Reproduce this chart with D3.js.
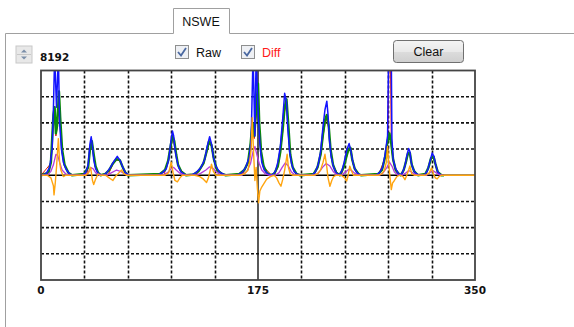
<!DOCTYPE html>
<html>
<head>
<meta charset="utf-8">
<script src="https://cdn.jsdelivr.net/npm/d3@7"></script>
<style>
  body { margin: 0; background: #fff; }
  svg { display: block; }
</style>
</head>
<body>
<div id="chart"></div>
<script>
// samples x 0..350, y in grid divisions (-4..4)
const xLabels = [0, 175, 350];
const gridX = [35, 70, 105, 140, 210, 245, 280, 315];
const gridY = [-3, -2, -1, 1, 2, 3];
const spinValue = '8192';

const greenRaw = [[0,0],[6,0.1],[8,0.5],[10,2.3],[11,2.6],[12,1.6],[13,1.9],[14.5,3.2],[15.5,2.2],[17,1.0],[19,0.4],[22,0.1],[25,0],
  [35,0.05],[38,0.3],[39.5,1.0],[41,1.3],[42.5,0.8],[44,0.35],[46,0.1],[48,0],
  [52,0.05],[55,0.2],[58,0.45],[61,0.62],[63.5,0.58],[66,0.3],[68,0.1],[70,0],
  [96,0.05],[100,0.2],[102.5,0.55],[104.5,1.1],[106,1.5],[107.5,1.3],[109,0.8],[110.5,0.4],[113,0.15],[117,0],
  [123,0.03],[127,0.15],[131,0.45],[133.5,0.9],[135.5,1.3],[137.5,1.15],[139.5,0.6],[142,0.2],[146,0.05],[149,0],
  [160,0.05],[164,0.2],[167,0.5],[169,1.2],[170.5,2.0],[172,1.5],[173.5,2.5],[175,3.5],[176,2.0],[177.5,0.9],[179.5,0.35],[182,0.1],[185,0],
  [188,0.05],[191,0.35],[193,0.9],[195,1.8],[196.5,2.6],[198,2.9],[199.5,1.9],[201,0.8],[203,0.3],[206,0.05],[209,0],
  [220,0.05],[223,0.3],[225.5,0.8],[227.5,1.6],[229,2.1],[230.5,2.3],[232,1.9],[233.5,1.0],[235.5,0.4],[238,0.1],[241,0],
  [241.5,0.05],[244,0.3],[246.5,0.75],[248,1.0],[249.5,1.05],[251,0.6],[253,0.25],[256,0.05],[258,0],
  [272,0.05],[275,0.2],[277.5,0.7],[279.5,1.3],[281,1.6],[282.5,1.2],[284,0.6],[286,0.2],[289,0.03],[290,0],
  [290.5,0.03],[292.5,0.2],[294.5,0.55],[296,0.85],[297.5,0.85],[299,0.4],[301,0.15],[304,0],
  [310,0.05],[312.5,0.3],[314.5,0.65],[316.5,0.72],[318,0.45],[320,0.12],[323,0],[325,0]];

const redRaw = [[0,0],[8,0.45],[10,2.1],[11,2.4],[12,1.5],[13,1.8],[14.5,2.9],[15.5,2.0],[17,0.9],[19,0.35],[24,0],
  [37,0],[39.5,0.95],[40.8,1.2],[42.5,0.75],[44,0.3],[47,0],
  [54,0],[58,0.42],[61,0.58],[63.5,0.55],[66,0.28],[70,0],
  [99,0],[102.5,0.5],[104.5,1.0],[106,1.4],[107.5,1.2],[109,0.75],[111,0.3],[117,0],
  [125,0],[131,0.42],[133.5,0.85],[135.5,1.22],[137.5,1.1],[139.5,0.55],[142,0.18],[149,0],
  [162,0],[167,0.45],[169,1.1],[170.5,1.8],[172,1.4],[173.5,2.3],[175,3.2],[176,1.8],[177.5,0.8],[180,0.3],[186,0],
  [188,0],[191,0.3],[193,0.85],[195,1.7],[196.5,2.45],[198,2.7],[199.5,1.8],[201,0.75],[203,0.28],[207,0],
  [220,0],[223,0.28],[225.5,0.75],[227.5,1.5],[229,1.95],[230.5,2.15],[232,1.8],[233.5,0.95],[235.5,0.38],[240,0],
  [242,0],[244,0.28],[246.5,0.7],[248,0.95],[249.5,1.0],[251,0.55],[253,0.22],[257,0],
  [272,0],[277.5,0.65],[279.5,1.2],[280.8,4.6],[281.8,4.6],[282.5,1.1],[284,0.55],[286,0.18],[289,0],
  [291,0],[292.5,0.18],[294.5,0.5],[296,0.8],[297.5,0.8],[299,0.38],[301,0.14],[304,0],
  [310,0],[312.5,0.28],[314.5,0.6],[316.5,0.68],[318,0.42],[320,0.1],[323,0],[325,0]];

const blueRaw = [[0,0],[4,0.05],[7,0.3],[9,1.0],[10,2.5],[11,4.6],[12.5,2.6],[14,4.6],[15,2.0],[16.5,1.0],[18,0.5],[20,0.25],[23,0.05],[26,0],
  [33,0],[36,0.1],[38,0.4],[39.5,1.2],[40.5,1.47],[41.5,1.1],[42.5,0.6],[44,0.25],[46,0.08],[49,0],
  [50,0],[53,0.1],[56,0.3],[59,0.55],[61.5,0.72],[64,0.55],[66,0.3],[68,0.1],[71,0],
  [94,0],[98,0.1],[101,0.25],[103,0.6],[104.5,1.2],[106,1.69],[107,1.5],[108,1.0],[109.5,0.6],[111,0.3],[113,0.12],[116,0.03],[119,0],
  [121,0],[125,0.1],[129,0.3],[132,0.6],[134,1.1],[136,1.47],[137.5,1.2],[139,0.7],[141,0.35],[144,0.12],[148,0.02],[151,0],
  [158,0],[162,0.1],[165,0.3],[168,0.7],[169.5,1.4],[171,4.6],[172.5,1.5],[173.5,4.6],[175,2.5],[176.5,1.2],[178,0.5],[180,0.2],[183,0.05],[186,0],
  [186.5,0],[189,0.15],[191,0.5],[193,1.1],[195,2.2],[196.5,3.13],[198,2.8],[199,1.8],[200.5,0.9],[202,0.45],[204,0.15],[207,0.03],[210,0],
  [218,0],[221,0.1],[223.5,0.4],[225.5,0.9],[227.5,1.9],[229,2.5],[230.5,2.83],[231.5,2.3],[232.5,1.4],[234,0.7],[236,0.3],[238,0.1],[240,0],
  [242.5,0.15],[244.5,0.5],[246.5,0.95],[248.5,1.21],[250,0.9],[251.5,0.5],[253,0.25],[255,0.08],[258,0],
  [270,0],[273,0.1],[275.5,0.3],[277.5,0.8],[279.5,1.5],[280.3,4.6],[282.5,4.6],[283,1.4],[284,0.6],[286,0.25],[288,0.08],[289.5,0],
  [291.5,0.1],[293.5,0.35],[295,0.75],[296.5,1.02],[297.5,0.9],[298.5,0.5],[300,0.25],[302,0.08],[305,0],
  [309,0],[311.5,0.15],[313.5,0.5],[315.5,0.85],[317,0.7],[318.5,0.35],[320,0.12],[322.5,0],[325,0]];

const purpleDiff = [[0,0],[5,0],[8,0.15],[10,0.4],[12,0.8],[13.5,0.75],[15,0.5],[17,0.2],[20,0.05],[23,0],
  [35,0],[38,0.1],[40,0.3],[42,0.25],[44,0.1],[47,0],
  [53,0],[57,0.1],[61,0.2],[64,0.15],[68,0.03],[70,0],
  [98,0],[102,0.1],[105,0.25],[107,0.3],[109,0.2],[112,0.08],[116,0],
  [125,0],[129,0.08],[133,0.2],[136,0.32],[139,0.25],[142,0.1],[146,0],
  [162,0],[166,0.15],[169,0.45],[171,0.9],[172.5,1.1],[174,0.8],[176,0.45],[178,0.2],[181,0.05],[184,0],
  [189,0],[192,0.1],[194.5,0.3],[197,0.47],[199.5,0.35],[202,0.12],[205,0],
  [221,0],[224,0.1],[227,0.3],[230,0.45],[233,0.35],[236,0.12],[239,0],
  [242,0],[245,0.1],[248,0.22],[250,0.2],[253,0.08],[256,0],
  [273,0],[276,0.1],[279,0.3],[281,0.5],[283,0.35],[285,0.12],[288,0],
  [291,0],[294,0.08],[296.5,0.18],[299,0.12],[302,0.03],[304,0],
  [311,0],[313.5,0.1],[316,0.18],[318.5,0.1],[321,0.02],[323,0],[325,0]];

const orangeDiff = [[0,0],[5,0],[8,-0.1],[10,-0.4],[10.5,-0.75],[11.5,-0.3],[12.5,0.3],[14,1.4],[15,0.5],[16,0.2],[18,-0.05],[20,0],
  [36,0],[38.5,0.1],[40,0.3],[41.5,-0.2],[42.5,-0.35],[44,-0.15],[46,0.05],[48,0],
  [52,0],[55,-0.1],[58,-0.2],[60,-0.05],[63,0.1],[65,0.2],[67,0.05],[69,0],
  [100,0],[103,0.1],[105,0.5],[106.5,0.1],[108,-0.2],[110,-0.25],[112,-0.1],[114,0],
  [124,0],[128,-0.05],[131,-0.15],[133.5,-0.28],[135,-0.1],[136.5,0.2],[137.5,0.42],[139,0.15],[141,0],
  [160,0],[164,0.05],[167,0.2],[168.5,0.6],[169.5,1.0],[170.3,2.2],[171.5,0.8],[172.5,-0.2],[173.5,0.3],[174.5,-0.5],[175.5,-1.05],[176.5,-0.6],[178,-0.45],[180,-0.3],[182,-0.15],[185,-0.05],[188,0],
  [190,-0.1],[192,-0.3],[193.5,-0.42],[195,-0.15],[196.5,0.2],[198.5,0.8],[199.5,0.3],[201,0.05],[203,0],
  [220,0],[223,0.05],[225.5,0.2],[227.5,0.5],[229,0.8],[230.5,0.3],[231.5,-0.1],[233,-0.42],[234.5,-0.2],[236,-0.05],[238,0],
  [242,0],[244.5,-0.08],[246.5,-0.22],[247.5,-0.05],[249,0.35],[250.5,0.15],[252,0],
  [272,0],[275,0.05],[277,0.2],[278.5,0.5],[279.5,1.1],[280.5,0.4],[281.5,-0.1],[282.5,-0.55],[283.5,-0.3],[285,-0.2],[287,-0.05],[289,0],
  [290,0],[292,-0.05],[293.5,-0.17],[295,0],[296.5,0.2],[297.5,0.35],[299,0.05],[301,0],
  [310,0],[313,0.08],[315,0.28],[316.5,0.05],[318,-0.1],[319.5,-0.14],[321,-0.05],[323,0],[350,0]];

const width = 574;
const height = 327;
const plot = { left: 41, right: 475, top: 70.5, bottom: 280 };

const svg = d3.select('#chart')
  .append('svg')
  .attr('width', width)
  .attr('height', height)
  .attr('viewBox', `0 0 ${width} ${height}`);

const defs = svg.append('defs');

// --- window chrome: tab, panel, controls ---
const chrome = svg.append('g');

chrome.append('path')
  .attr('d', 'M5.5,327 V33.5 H173.5 V8.5 H229.5 V33.5 H574')
  .attr('fill', 'none')
  .attr('stroke', '#a0a0a0');
chrome.append('text')
  .attr('x', 201).attr('y', 26)
  .attr('text-anchor', 'middle')
  .attr('font-family', 'Liberation Sans, Arial, sans-serif')
  .attr('font-size', 12.5)
  .attr('fill', '#111')
  .text('NSWE');

// spinner
const spin = chrome.append('g').attr('transform', 'translate(16,46)');
spin.append('rect').attr('width', 16).attr('height', 17).attr('fill', '#e8e8e8').attr('stroke', '#c8c8c8');
spin.append('line').attr('x1', 1).attr('x2', 15).attr('y1', 8.5).attr('y2', 8.5).attr('stroke', '#c8c8c8');
spin.append('path').attr('d', 'M5,6.5 L8,3.5 L11,6.5 Z').attr('fill', '#7a8ea8');
spin.append('path').attr('d', 'M5,10.5 L8,13.5 L11,10.5 Z').attr('fill', '#7a8ea8');
chrome.append('text')
  .attr('x', 40).attr('y', 61)
  .attr('font-family', 'DejaVu Sans, Verdana, sans-serif')
  .attr('font-weight', 'bold')
  .attr('font-size', 10.5)
  .attr('fill', '#111')
  .text(spinValue);

// checkboxes
function checkbox(x, label, color) {
  const g = chrome.append('g').attr('transform', `translate(${x},45)`);
  g.append('rect').attr('x', 0.5).attr('y', 0.5).attr('width', 13).attr('height', 13)
    .attr('fill', '#eef0f4').attr('stroke', '#8e8f8f');
  g.append('path').attr('d', 'M3,7 L6,10.5 L11,3')
    .attr('fill', 'none').attr('stroke', '#4a68a0').attr('stroke-width', 1.8);
  g.append('text')
    .attr('x', 21).attr('y', 12)
    .attr('font-family', 'Liberation Sans, Arial, sans-serif')
    .attr('font-size', 12.5)
    .attr('fill', color)
    .text(label);
}
checkbox(175, 'Raw', '#111');
checkbox(241, 'Diff', '#ff1a1a');

// Clear button
const btnGrad = defs.append('linearGradient')
  .attr('id', 'btn').attr('x1', 0).attr('x2', 0).attr('y1', 0).attr('y2', 1);
btnGrad.append('stop').attr('offset', '0%').attr('stop-color', '#f4f4f4');
btnGrad.append('stop').attr('offset', '50%').attr('stop-color', '#e9e9e9');
btnGrad.append('stop').attr('offset', '51%').attr('stop-color', '#dcdcdc');
btnGrad.append('stop').attr('offset', '100%').attr('stop-color', '#cfcfcf');
chrome.append('rect')
  .attr('x', 393.5).attr('y', 40.5).attr('width', 70).attr('height', 22).attr('rx', 3)
  .attr('fill', 'url(#btn)').attr('stroke', '#707070');
chrome.append('text')
  .attr('x', 428.5).attr('y', 56)
  .attr('text-anchor', 'middle')
  .attr('font-family', 'Liberation Sans, Arial, sans-serif')
  .attr('font-size', 12.5)
  .attr('fill', '#111')
  .text('Clear');

// --- plot ---
const x = d3.scaleLinear().domain([0, 350]).range([plot.left, plot.right]);
const y = d3.scaleLinear().domain([-4, 4]).range([plot.bottom, plot.top]);

defs.append('clipPath').attr('id', 'clip')
  .append('rect')
  .attr('x', plot.left).attr('y', plot.top)
  .attr('width', plot.right - plot.left).attr('height', plot.bottom - plot.top);

const grid = svg.append('g');
grid.selectAll('line.gx')
  .data(gridX)
  .join('line')
  .attr('class', 'gx')
  .attr('x1', d => Math.round(x(d)) + 0.5).attr('x2', d => Math.round(x(d)) + 0.5)
  .attr('y1', plot.top).attr('y2', plot.bottom)
  .attr('stroke', '#111').attr('stroke-width', 1.6).attr('stroke-dasharray', '3,2');
grid.selectAll('line.gy')
  .data(gridY)
  .join('line')
  .attr('class', 'gy')
  .attr('x1', plot.left).attr('x2', plot.right)
  .attr('y1', d => y(d)).attr('y2', d => y(d))
  .attr('stroke', '#111').attr('stroke-width', 1.6).attr('stroke-dasharray', '3,2');

// center axes
grid.append('line')
  .attr('x1', x(175)).attr('x2', x(175)).attr('y1', plot.top).attr('y2', plot.bottom)
  .attr('stroke', '#000').attr('stroke-width', 1.3);
grid.append('line')
  .attr('x1', plot.left).attr('x2', plot.right).attr('y1', y(0)).attr('y2', y(0))
  .attr('stroke', '#000').attr('stroke-width', 1.3);

const line = d3.line().x(d => x(d[0])).y(d => y(d[1]));

const series = [
  { data: redRaw, color: '#e01010', w: 1 },
  { data: greenRaw, color: '#0a8a0a', w: 2.4 },
  { data: blueRaw, color: '#1414ff', w: 1.5 },
  { data: purpleDiff, color: '#b43cdc', w: 1.3 },
  { data: orangeDiff, color: '#ffa510', w: 1.4 },
];

svg.append('g')
  .attr('clip-path', 'url(#clip)')
  .selectAll('path')
  .data(series)
  .join('path')
  .attr('d', d => line(d.data))
  .attr('fill', 'none')
  .attr('stroke', d => d.color)
  .attr('stroke-width', d => d.w)
  .attr('stroke-linejoin', 'round');

// plot border
svg.append('rect')
  .attr('x', plot.left).attr('y', plot.top)
  .attr('width', plot.right - plot.left).attr('height', plot.bottom - plot.top)
  .attr('fill', 'none').attr('stroke', '#444').attr('stroke-width', 1.8);

// x labels
svg.append('g')
  .selectAll('text')
  .data(xLabels)
  .join('text')
  .attr('x', d => x(d))
  .attr('y', 294)
  .attr('text-anchor', 'middle')
  .attr('font-family', 'DejaVu Sans, Verdana, sans-serif')
  .attr('font-weight', 'bold')
  .attr('font-size', 10.5)
  .attr('fill', '#111')
  .text(d => d);
</script>
</body>
</html>
